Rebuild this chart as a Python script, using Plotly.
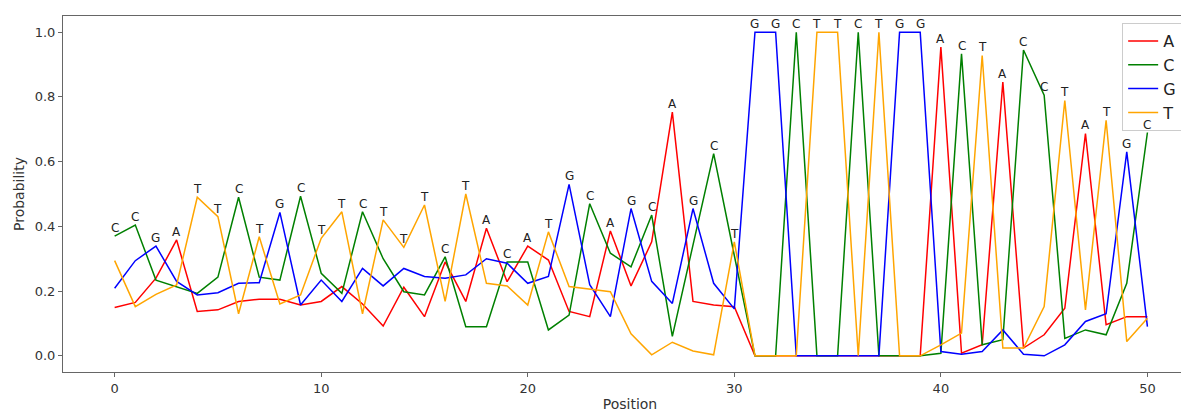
import plotly.graph_objects as go

positions = list(range(51))

prob_A = [0.149, 0.165, 0.24, 0.358, 0.137, 0.142, 0.168, 0.175, 0.175, 0.157,
          0.168, 0.214, 0.16, 0.092, 0.212, 0.121, 0.29, 0.168, 0.394, 0.229,
          0.339, 0.296, 0.137, 0.121, 0.386, 0.216, 0.352, 0.753, 0.168, 0.157,
          0.152, 0.0, 0.0, 0.0, 0.0, 0.0, 0.0, 0.0, 0.0, 0.0,
          0.954, 0.008, 0.034, 0.846, 0.024, 0.065, 0.147, 0.687, 0.096, 0.121,
          0.121]
prob_C = [0.37, 0.404, 0.234, 0.214, 0.193, 0.243, 0.49, 0.243, 0.234, 0.493,
          0.255, 0.193, 0.445, 0.30, 0.198, 0.188, 0.306, 0.09, 0.09, 0.29,
          0.29, 0.08, 0.126, 0.47, 0.317, 0.275, 0.435, 0.06, 0.34, 0.625,
          0.31, 0.0, 0.0, 1.0, 0.0, 0.0, 1.0, 0.0, 0.0, 0.0,
          0.008, 0.933, 0.034, 0.05, 0.945, 0.805, 0.054, 0.08, 0.065, 0.224,
          0.69]
prob_G = [0.209, 0.294, 0.339, 0.23, 0.188, 0.195, 0.224, 0.226, 0.443, 0.157,
          0.234, 0.168, 0.27, 0.216, 0.27, 0.245, 0.24, 0.25, 0.30, 0.286,
          0.224, 0.245, 0.53, 0.22, 0.121, 0.455, 0.23, 0.162, 0.455, 0.224,
          0.145, 1.0, 1.0, 0.0, 0.0, 0.0, 0.0, 0.0, 1.0, 1.0,
          0.013, 0.005, 0.013, 0.08, 0.005, 0.0, 0.034, 0.106, 0.13, 0.63,
          0.09]
prob_T = [0.294, 0.152, 0.19, 0.219, 0.49, 0.43, 0.13, 0.368, 0.16, 0.188,
          0.363, 0.445, 0.13, 0.42, 0.335, 0.466, 0.168, 0.50, 0.224, 0.216,
          0.157, 0.383, 0.214, 0.205, 0.198, 0.068, 0.003, 0.042, 0.015, 0.003,
          0.352, 0.0, 0.0, 0.0, 1.0, 1.0, 0.0, 1.0, 0.0, 0.0,
          0.034, 0.07, 0.928, 0.024, 0.024, 0.152, 0.789, 0.142, 0.728, 0.044,
          0.116]

bases = ["A", "C", "G", "T"]
colors = ["red", "green", "blue", "orange"]
series = [prob_A, prob_C, prob_G, prob_T]

fig = go.Figure()
for b, c, s in zip(bases, colors, series):
    fig.add_trace(go.Scatter(x=positions, y=s, mode="lines", name=b,
                             legendgroup=b,
                             line=dict(color=c, width=1.5)))

# label the most probable base at each position
for i in positions:
    vals = [s[i] for s in series]
    k = max(range(4), key=lambda j: vals[j])
    fig.add_annotation(x=i, y=vals[k], text=bases[k], showarrow=False,
                       yanchor="middle", yshift=8,
                       font=dict(size=12, color="#222", family="DejaVu Sans"))

axis_color = "#666"
fig.update_layout(
    width=1189, height=414,
    margin=dict(l=55, r=0, t=8, b=50),
    plot_bgcolor="white", paper_bgcolor="white",
    font=dict(family="DejaVu Sans", size=13, color="#333"),
    showlegend=True,
    legend=dict(x=0.934, y=0.98, xanchor="left", yanchor="top",
                bgcolor="rgba(255,255,255,0.85)", bordercolor="#cccccc",
                borderwidth=1, font=dict(size=16, color="#222"),
                tracegroupgap=0, traceorder="grouped"),
    xaxis=dict(range=[-2.5, 52.4], tickvals=[0, 10, 20, 30, 40, 50],
               showgrid=False, zeroline=False, showline=True, linecolor=axis_color,
               linewidth=1, mirror=True, ticks="outside", ticklen=4,
               tickcolor=axis_color,
               title=dict(text="Position", standoff=4, font=dict(size=14))),
    yaxis=dict(range=[-0.05, 1.05], tickvals=[0, 0.2, 0.4, 0.6, 0.8, 1.0],
               tickformat=".1f", showgrid=False, zeroline=False, showline=True,
               linecolor=axis_color, linewidth=1, ticks="outside", ticklen=4,
               tickcolor=axis_color,
               title=dict(text="Probability", standoff=6, font=dict(size=14))),
)

fig.write_html("out.html")
